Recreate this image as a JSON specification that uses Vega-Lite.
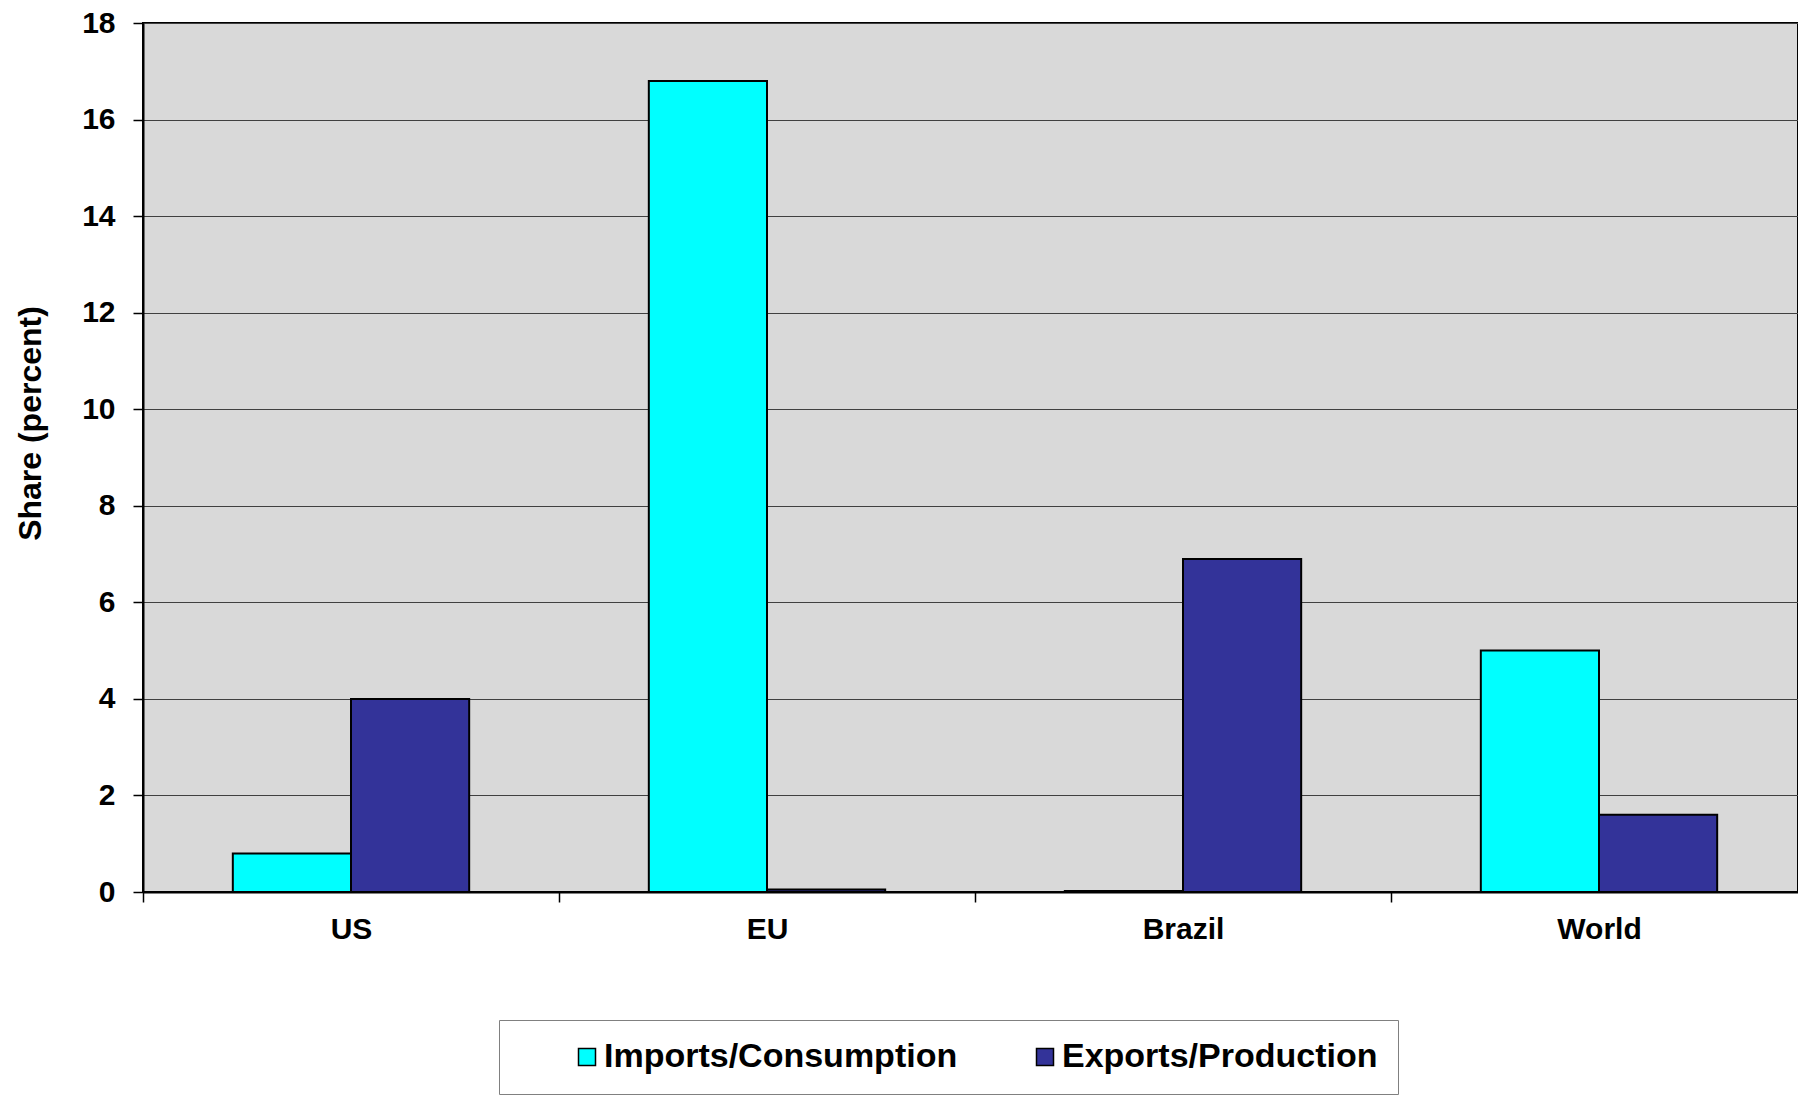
{
  "$schema": "https://vega.github.io/schema/vega-lite/v6.json",
  "width": 1655,
  "height": 869,
  "autosize": {"type": "none"},
  "padding": {"left": 143, "top": 23, "right": 0, "bottom": 204},
  "background": "white",
  "config": {
    "font": "Liberation Sans",
    "view": {"fill": "#D9D9D9", "stroke": "#000000", "strokeWidth": 2}
  },
  "data": {
    "values": [
      {"region": "US", "series": "Imports/Consumption", "share": 0.8},
      {"region": "US", "series": "Exports/Production", "share": 4.0},
      {"region": "EU", "series": "Imports/Consumption", "share": 16.8},
      {"region": "EU", "series": "Exports/Production", "share": 0.05},
      {"region": "Brazil", "series": "Imports/Consumption", "share": 0.02},
      {"region": "Brazil", "series": "Exports/Production", "share": 6.9},
      {"region": "World", "series": "Imports/Consumption", "share": 5.0},
      {"region": "World", "series": "Exports/Production", "share": 1.6}
    ]
  },
  "mark": {"type": "bar", "stroke": "#000000", "strokeWidth": 2},
  "encoding": {
    "x": {
      "field": "region",
      "type": "nominal",
      "sort": ["US", "EU", "Brazil", "World"],
      "scale": {"paddingInner": 0, "paddingOuter": 0, "range": [0, 1664]},
      "axis": {
        "title": null,
        "labelAngle": 0,
        "labelFont": "Liberation Sans",
        "labelFontWeight": "bold",
        "labelFontSize": 30,
        "labelColor": "#000000",
        "labelPadding": 12,
        "tickBand": "extent",
        "tickSize": 10,
        "tickColor": "#000000",
        "tickWidth": 1.5,
        "domainColor": "#000000",
        "domainWidth": 2,
        "grid": false
      }
    },
    "xOffset": {
      "field": "series",
      "type": "nominal",
      "sort": ["Imports/Consumption", "Exports/Production"],
      "scale": {"paddingInner": 0, "paddingOuter": 0.76}
    },
    "y": {
      "field": "share",
      "type": "quantitative",
      "scale": {"domain": [0, 18], "nice": false},
      "axis": {
        "title": "Share (percent)",
        "titleFont": "Liberation Sans",
        "titleFontWeight": "bold",
        "titleFontSize": 32,
        "titleColor": "#000000",
        "titleAngle": -90,
        "titleAlign": "center",
        "titleBaseline": "middle",
        "titleX": -113,
        "titleY": 400,
        "values": [0, 2, 4, 6, 8, 10, 12, 14, 16, 18],
        "labelFont": "Liberation Sans",
        "labelFontWeight": "bold",
        "labelFontSize": 30,
        "labelColor": "#000000",
        "labelPadding": 18,
        "tickSize": 10,
        "tickColor": "#000000",
        "tickWidth": 1.5,
        "domainColor": "#000000",
        "domainWidth": 2,
        "grid": true,
        "gridColor": "#404040",
        "gridWidth": 1
      }
    },
    "fill": {
      "field": "series",
      "type": "nominal",
      "sort": ["Imports/Consumption", "Exports/Production"],
      "scale": {
        "domain": ["Imports/Consumption", "Exports/Production"],
        "range": ["#00FFFF", "#333399"]
      },
      "legend": {
        "title": null,
        "orient": "none",
        "legendX": 356,
        "legendY": 997,
        "direction": "horizontal",
        "columns": 2,
        "padding": 20,
        "columnPadding": 19,
        "symbolOffset": 51,
        "symbolType": "square",
        "symbolSize": 289,
        "symbolStrokeColor": "#000000",
        "symbolStrokeWidth": 1.5,
        "labelOffset": 0,
        "labelFont": "Liberation Sans",
        "labelFontWeight": "bold",
        "labelFontSize": 34,
        "labelColor": "#000000",
        "labelLimit": 600,
        "strokeColor": "#808080",
        "fillColor": "#FFFFFF"
      }
    }
  }
}
